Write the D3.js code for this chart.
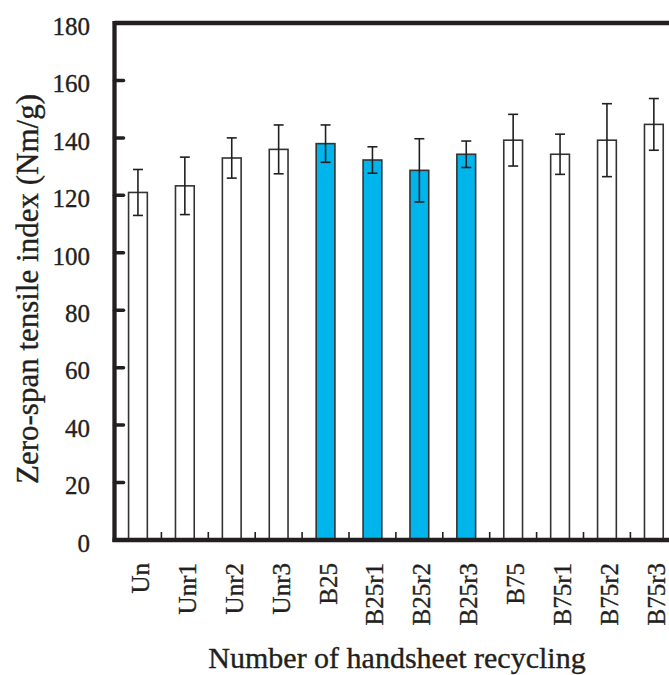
<!DOCTYPE html>
<html>
<head>
<meta charset="utf-8">
<script src="https://cdn.jsdelivr.net/npm/d3@7"></script>
<style>
    html, body { margin: 0; padding: 0; background: #fff; }
    svg { display: block; }
    text { font-family: 'Liberation Serif', 'Times New Roman', Times, 'DejaVu Serif', serif; stroke: #231f20; stroke-width: 0.35px; }
</style>
</head>
<body>
<svg id="chart"></svg>
<script>
// Chart data
const categories = ['Un', 'Unr1', 'Unr2', 'Unr3', 'B25', 'B25r1', 'B25r2', 'B25r3', 'B75', 'B75r1', 'B75r2', 'B75r3'];
const means = [121, 123.3, 133, 136, 138, 132.3, 128.7, 134.3, 139.2, 134.3, 139.2, 144.7];
const errors = [8, 10, 7, 8.5, 6.5, 4.6, 11, 4.6, 9, 7, 12.7, 9];
const highlighted = ['B25', 'B25r1', 'B25r2', 'B25r3'];
const yTicks = [0, 20, 40, 60, 80, 100, 120, 140, 160, 180];

const width = 669, height = 675;
const ink = '#231f20';

const svg = d3.select('#chart')
    .attr('width', width)
    .attr('height', height);

// Plot frame: left edge, top and bottom; the right side runs off the picture
const plotLeft = 114.5, plotTop = 23, plotBottom = 540;
const step = 46.9;
const plotRight = plotLeft + step * categories.length;

const x = d3.scaleBand()
    .domain(categories)
    .range([plotLeft, plotRight])
    .paddingInner(0.6)
    .paddingOuter(0.3);

const y = d3.scaleLinear()
    .domain([0, 180])
    .range([plotBottom, plotTop]);

// Bars
svg.append('g')
    .selectAll('rect')
    .data(categories)
    .enter()
    .append('rect')
    .attr('x', d => x(d))
    .attr('y', (d, i) => y(means[i]))
    .attr('width', x.bandwidth())
    .attr('height', (d, i) => y(0) - y(means[i]))
    .attr('fill', d => highlighted.includes(d) ? '#00b5ec' : '#fff')
    .attr('stroke', '#333')
    .attr('stroke-width', 1.6);

// Error bars
const errGroup = svg.append('g')
    .attr('stroke', ink)
    .attr('stroke-width', 1.6);

categories.forEach((c, i) => {
    const cx = x(c) + x.bandwidth() / 2;
    const hi = y(means[i] + errors[i]);
    const lo = y(means[i] - errors[i]);
    errGroup.append('line').attr('x1', cx).attr('x2', cx).attr('y1', hi).attr('y2', lo);
    errGroup.append('line').attr('x1', cx - 5).attr('x2', cx + 5).attr('y1', hi).attr('y2', hi);
    errGroup.append('line').attr('x1', cx - 5).attr('x2', cx + 5).attr('y1', lo).attr('y2', lo);
});

// Small upward ticks between categories on the x axis
svg.append('g')
    .selectAll('line')
    .data(categories.slice(1))
    .enter()
    .append('line')
    .attr('x1', d => x(d) - x.step() * x.paddingInner() / 2)
    .attr('x2', d => x(d) - x.step() * x.paddingInner() / 2)
    .attr('y1', plotBottom)
    .attr('y2', plotBottom - 8)
    .attr('stroke', ink)
    .attr('stroke-width', 1.6);

// Frame lines
svg.append('line')
    .attr('x1', plotLeft).attr('x2', width + 10)
    .attr('y1', plotTop).attr('y2', plotTop)
    .attr('stroke', ink).attr('stroke-width', 4.3);

svg.append('line')
    .attr('x1', plotLeft - 2).attr('x2', width + 10)
    .attr('y1', plotBottom).attr('y2', plotBottom)
    .attr('stroke', ink).attr('stroke-width', 4.3);

svg.append('line')
    .attr('x1', plotLeft).attr('x2', plotLeft)
    .attr('y1', plotTop - 2).attr('y2', plotBottom + 2)
    .attr('stroke', ink).attr('stroke-width', 4.3);

// Y axis: inward ticks and labels
const yAxis = svg.append('g');

yAxis.selectAll('line')
    .data(yTicks)
    .enter()
    .append('line')
    .attr('x1', plotLeft)
    .attr('x2', plotLeft + 9)
    .attr('y1', d => y(d))
    .attr('y2', d => y(d))
    .attr('stroke', ink)
    .attr('stroke-width', 3.5)
    .attr('stroke-linecap', 'round');

yAxis.selectAll('text')
    .data(yTicks)
    .enter()
    .append('text')
    .attr('x', 90)
    .attr('y', d => y(d) + 3)
    .attr('dy', '0.35em')
    .attr('text-anchor', 'end')
    .attr('font-size', 25)
    .attr('fill', ink)
    .text(d => d);

// X labels, rotated
svg.append('g')
    .selectAll('text')
    .data(categories)
    .enter()
    .append('text')
    .attr('transform', d => `translate(${x(d) + x.bandwidth() / 2 + 11},563) rotate(-90)`)
    .attr('text-anchor', 'end')
    .attr('font-size', 25)
    .attr('fill', ink)
    .text(d => d);

// Axis titles
svg.append('text')
    .attr('transform', 'translate(38,289) rotate(-90)')
    .attr('text-anchor', 'middle')
    .attr('font-size', 31)
    .attr('fill', ink)
    .text('Zero-span tensile index (Nm/g)');

svg.append('text')
    .attr('x', 397)
    .attr('y', 668)
    .attr('text-anchor', 'middle')
    .attr('font-size', 30)
    .attr('fill', ink)
    .text('Number of handsheet recycling');
</script>
</body>
</html>
